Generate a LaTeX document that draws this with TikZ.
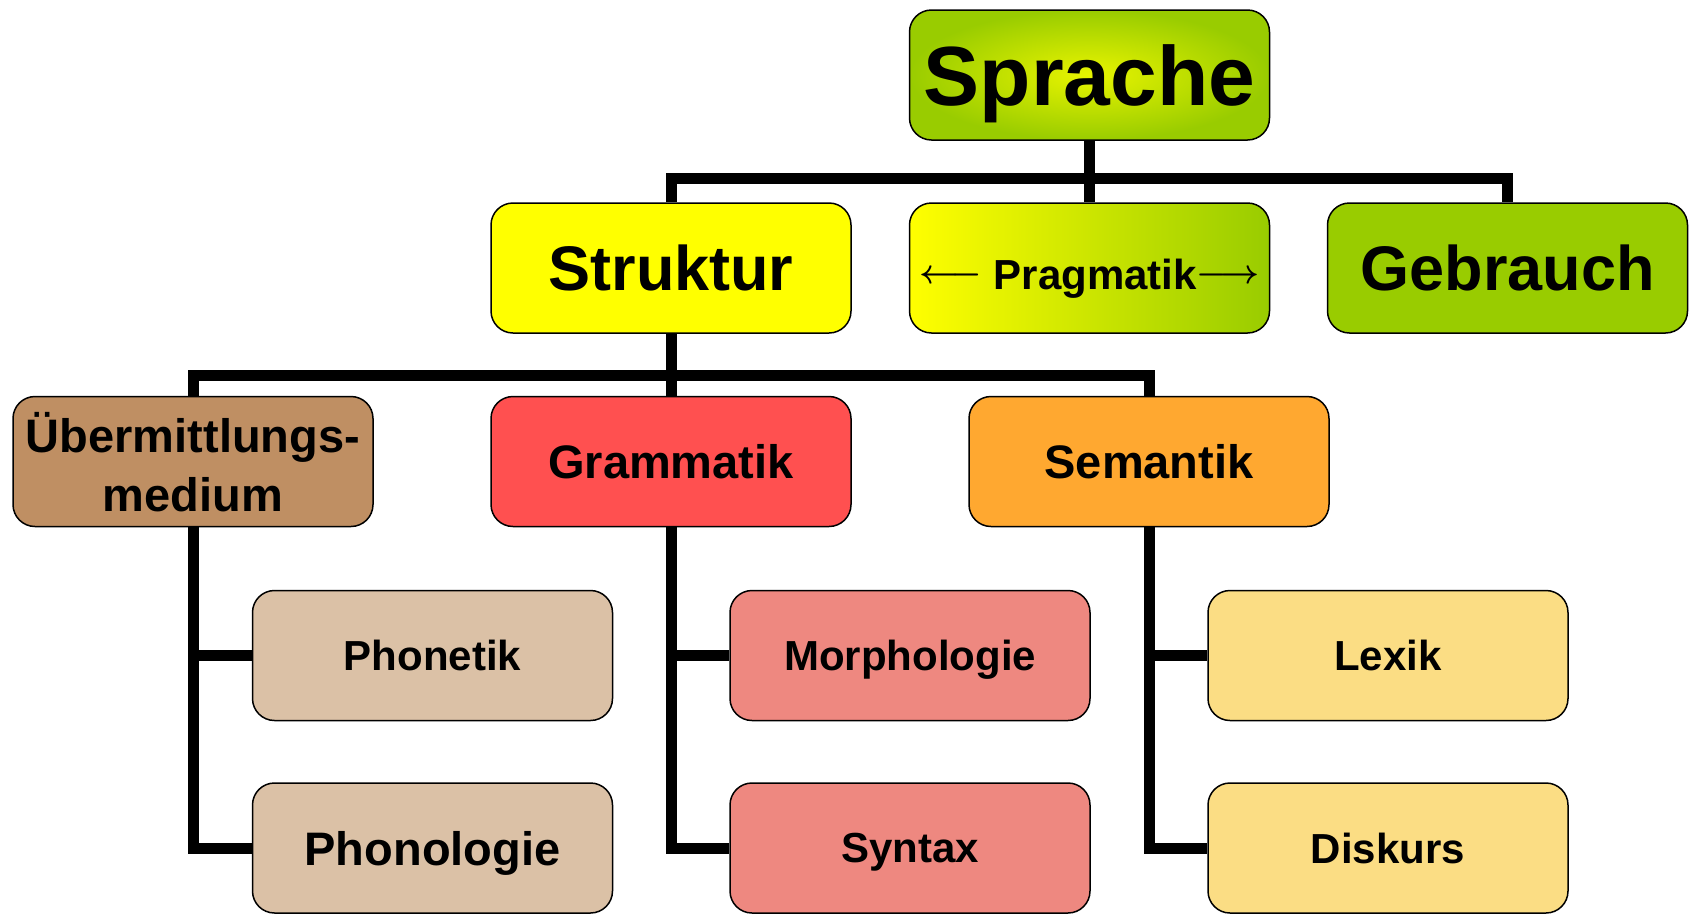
\RequirePackage{fix-cm}
\documentclass[tikz,border=0pt]{standalone}
\usepackage{fontspec}
\setmainfont{Liberation Sans}
\usepackage{tikz}

\definecolor{sprinner}{RGB}{232,244,0}
\definecolor{gebgreen}{RGB}{153,204,0}
\definecolor{strukyellow}{RGB}{255,255,0}
\definecolor{medbrown}{RGB}{191,143,99}
\definecolor{gramred}{RGB}{255,80,80}
\definecolor{semorange}{RGB}{255,168,48}
\definecolor{phonbeige}{RGB}{219,193,166}
\definecolor{morphrose}{RGB}{238,136,128}
\definecolor{lexyellow}{RGB}{251,221,132}

\newcommand{\fsz}[1]{\bfseries\fontsize{#1}{#1}\selectfont}
\newcommand{\pragarrow}[1]{\raisebox{6pt}{\fontsize{34}{34}\selectfont\boldmath$#1$}}

\begin{document}
\begin{tikzpicture}[x=1pt, y=-1pt,
    box/.style={draw, line width=1.5pt, rounded corners=22pt, minimum width=360pt,
        minimum height=130pt, inner sep=0pt, align=center, text depth=0pt},
    bus/.style={line width=11pt}]
    \useasboundingbox (0,0) rectangle (1694,914);

    \node[box, shading=radial, inner color=sprinner, outer color=gebgreen, font=\fsz{84}] (sprache) at (1089.5,75) {Sprache};

    \node[box, fill=strukyellow, font=\fsz{63}] (struktur) at (671,268) {Struktur};
    \node[box, left color=strukyellow, right color=gebgreen, font=\fsz{42}, text height=43pt] (pragmatik) at (1089.5,268)
        {\pragarrow{\longleftarrow} Pragmatik\pragarrow{\longrightarrow}};
    \node[box, fill=gebgreen, font=\fsz{63}] (gebrauch) at (1507.5,268) {Gebrauch};

    \node[box, fill=medbrown, font=\bfseries\fontsize{47}{59}\selectfont] (medium) at (193,461.5) {Übermittlungs-\\medium};
    \node[box, fill=gramred, font=\fsz{47}] (grammatik) at (671,461.5) {Grammatik};
    \node[box, fill=semorange, font=\fsz{47}] (semantik) at (1149,461.5) {Semantik};

    \node[box, fill=phonbeige, font=\fsz{42}] (phonetik) at (432.5,655.5) {Phonetik};
    \node[box, fill=phonbeige, font=\fsz{47}] (phonologie) at (432.5,848) {Phonologie};
    \node[box, fill=morphrose, font=\fsz{42}] (morphologie) at (910,655.5) {Morphologie};
    \node[box, fill=morphrose, font=\fsz{42}] (syntax) at (910,848) {Syntax};
    \node[box, fill=lexyellow, font=\fsz{42}] (lexik) at (1388,655.5) {Lexik};
    \node[box, fill=lexyellow, font=\fsz{42}] (diskurs) at (1388,848) {Diskurs};

    \path (sprache.south) ++(0,38) coordinate (bus1);
    \path (struktur.south) ++(0,42) coordinate (bus2);

    \draw[bus] (sprache.south) -- (pragmatik.north);
    \draw[bus] (struktur.north) |- (bus1) -| (gebrauch.north);
    \draw[bus] (struktur.south) -- (grammatik.north);
    \draw[bus] (medium.north) |- (bus2) -| (semantik.north);

    \foreach \top/\upper/\lower in {medium/phonetik/phonologie, grammatik/morphologie/syntax, semantik/lexik/diskurs} {
        \draw[bus] (\top.south) |- (\lower.west);
        \draw[bus] (\top.south |- \upper.west) -- (\upper.west);
    }
\end{tikzpicture}
\end{document}
